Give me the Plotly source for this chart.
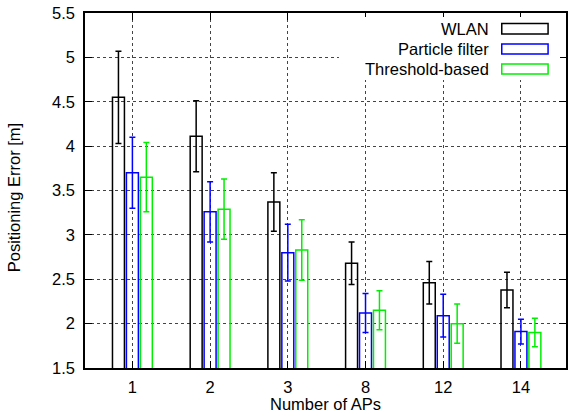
import plotly.graph_objects as go

categories = ["1", "2", "3", "8", "12", "14"]
series_names = ["WLAN", "Particle filter", "Threshold-based"]
wlan = [4.55, 4.11, 3.37, 2.68, 2.46, 2.38]
wlan_err = [0.52, 0.40, 0.33, 0.24, 0.24, 0.20]
pf = [3.70, 3.26, 2.80, 2.12, 2.09, 1.91]
pf_err = [0.40, 0.34, 0.32, 0.22, 0.24, 0.14]
thr = [3.65, 3.29, 2.83, 2.15, 2.00, 1.90]
thr_err = [0.39, 0.34, 0.34, 0.22, 0.22, 0.16]
y_ticks = [1.5, 2, 2.5, 3, 3.5, 4, 4.5, 5, 5.5]
colors = ["#000000", "#0000ff", "#00ee00"]

W, H = 569, 418
L, R, T, B = 85, 1, 13, 50
PW, PH = W - L - R, H - T - B

def px(x):
    return (x - L) / PW

def py(y):
    return (H - B - y) / PH

FONT = "Liberation Sans, Arial, Helvetica, sans-serif"
FS = 16.5

fig = go.Figure()
for name, vals, errs, col in zip(series_names, [wlan, pf, thr], [wlan_err, pf_err, thr_err], colors):
    fig.add_trace(go.Bar(
        x=categories, y=vals, name=name,
        marker=dict(color="rgba(0,0,0,0)", line=dict(color=col, width=1.5)),
        error_y=dict(type="data", array=errs, color=col, thickness=1.5, width=3),
        showlegend=False,
    ))

shapes = [dict(type="rect", xref="paper", yref="paper", x0=px(340), x1=px(562),
               y0=py(80), y1=py(17), fillcolor="white", line=dict(width=0), layer="above")]
annotations = []
rows = [(29, 23.5, 34), (49, 44, 54), (69, 64, 74)]
for (cy, y0, y1), name, col in zip(rows, series_names, colors):
    annotations.append(dict(x=px(493), y=py(cy), xref="paper", yref="paper", text=name,
                            showarrow=False, xanchor="right", yanchor="middle",
                            font=dict(family=FONT, size=FS, color="black")))
    shapes.append(dict(type="rect", xref="paper", yref="paper", x0=px(503.5), x1=px(550),
                       y0=py(y1), y1=py(y0), line=dict(color=col, width=1.5),
                       fillcolor="rgba(0,0,0,0)", layer="above"))

# axis titles
annotations.append(dict(x=px(326.5), y=py(404), xref="paper", yref="paper",
                        text="Number of APs", showarrow=False, xanchor="center", yanchor="middle",
                        font=dict(family=FONT, size=FS, color="black")))
annotations.append(dict(x=px(14), y=py(198), xref="paper", yref="paper",
                        text="Positioning Error [m]", showarrow=False, textangle=-90,
                        xanchor="center", yanchor="middle",
                        font=dict(family=FONT, size=FS, color="black")))

fig.update_layout(
    width=W, height=H,
    margin=dict(l=L, r=R, t=T, b=B),
    paper_bgcolor="white", plot_bgcolor="white",
    barmode="group", bargap=0.4615, bargroupgap=0.143,
    font=dict(family=FONT, size=FS, color="black"),
    shapes=shapes, annotations=annotations,
    xaxis=dict(type="category", range=[-0.61, 5.58], showline=True, linecolor="black",
               linewidth=1.5, mirror="ticks", ticks="inside", ticklen=7, tickcolor="black",
               showgrid=True, gridcolor="#444", griddash="dot", gridwidth=1,
               ticklabelstandoff=3, tickfont=dict(size=FS)),
    yaxis=dict(range=[1.5, 5.5], tickvals=y_ticks, ticktext=[f"{v:g}" for v in y_ticks],
               showline=True, linecolor="black", linewidth=1.5, mirror="ticks",
               ticks="inside", ticklen=7, tickcolor="black",
               showgrid=True, gridcolor="#444", griddash="dot", gridwidth=1,
               ticklabelstandoff=5, zeroline=False, tickfont=dict(size=FS)),
)

fig.write_html("out.html")
